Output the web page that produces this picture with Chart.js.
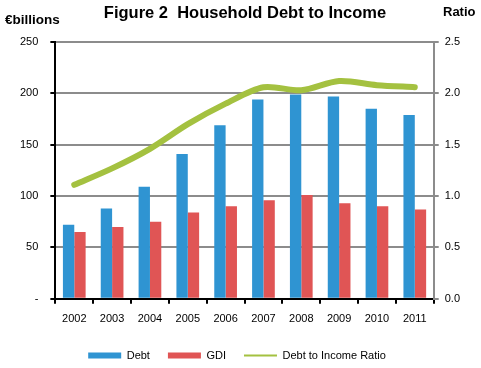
<!DOCTYPE html>
<html>
<head>
<meta charset="utf-8">
<script src="https://cdn.jsdelivr.net/npm/chart.js@4.4.1/dist/chart.umd.min.js"></script>
<style>
  body { margin: 0; background: #fff; }
  #wrap { position: relative; width: 481px; height: 368px; }
</style>
</head>
<body>
<div id="wrap"><canvas id="chart"></canvas></div>
<script>
'use strict';

// chart data
const years = ['2002', '2003', '2004', '2005', '2006', '2007', '2008', '2009', '2010', '2011'];
const debt = [72, 88, 109, 141, 169, 194, 199, 197, 185, 179];
const gdi = [65, 70, 75, 84, 90, 96, 101, 93, 90, 87];
const ratio = [1.11, 1.27, 1.46, 1.70, 1.90, 2.06, 2.03, 2.12, 2.08, 2.06];

const blue = '#2f94d2';
const red = '#e05555';
const green = '#a4c140';
const gridGrey = '#8c8c8c';
const font = '"Liberation Sans", Arial, sans-serif';

// draws title and the two unit labels above the axes
const headerText = {
    id: 'headerText',
    afterDraw(chart) {
        const ctx = chart.ctx;
        ctx.save();
        ctx.fillStyle = '#000';
        ctx.textBaseline = 'middle';
        ctx.font = 'bold 16.5px ' + font;
        ctx.textAlign = 'center';
        ctx.fillText('Figure 2  Household Debt to Income', 245, 13);
        ctx.font = 'bold 13.5px ' + font;
        ctx.textAlign = 'left';
        ctx.fillText('€billions', 5, 20);
        ctx.font = 'bold 13px ' + font;
        ctx.fillText('Ratio', 443, 12);
        ctx.restore();
    }
};

new Chart(document.getElementById('chart'), {
    type: 'bar',
    data: {
        labels: years,
        datasets: [{
            type: 'line',
            label: 'Debt to Income Ratio',
            data: ratio,
            yAxisID: 'y1',
            borderColor: green,
            backgroundColor: green,
            borderWidth: 6,
            pointRadius: 0,
            tension: 0.3,
            borderCapStyle: 'round',
            order: 0
        }, {
            label: 'Debt',
            data: debt,
            yAxisID: 'y',
            backgroundColor: blue,
            categoryPercentage: 0.6,
            barPercentage: 1.0,
            order: 1
        }, {
            label: 'GDI',
            data: gdi,
            yAxisID: 'y',
            backgroundColor: red,
            categoryPercentage: 0.6,
            barPercentage: 1.0,
            order: 1
        }]
    },
    options: {
        responsive: true,
        maintainAspectRatio: false,
        animation: false,
        layout: { padding: { top: 42, left: 8, right: 15, bottom: -3 } },
        plugins: {
            title: { display: false },
            tooltip: { enabled: false },
            legend: {
                position: 'bottom',
                labels: {
                    usePointStyle: true,
                    pointStyleWidth: 33,
                    boxHeight: 6,
                    padding: 18,
                    color: '#000',
                    font: { size: 11, family: font },
                    generateLabels(chart) {
                        const order = [1, 2, 0];
                        return order.map(i => {
                            const ds = chart.data.datasets[i];
                            const isLine = ds.type === 'line';
                            return {
                                text: ds.label,
                                fillStyle: ds.backgroundColor,
                                strokeStyle: isLine ? ds.borderColor : ds.backgroundColor,
                                lineWidth: isLine ? 2 : 0,
                                pointStyle: isLine ? 'line' : 'rect',
                                hidden: false,
                                datasetIndex: i
                            };
                        });
                    }
                }
            }
        },
        scales: {
            x: {
                offset: true,
                afterFit(scale) {
                    scale.height -= 3;
                },
                grid: {
                    offset: true,
                    drawOnChartArea: false,
                    color: '#000',
                    tickColor: '#000',
                    tickLength: 5,
                    lineWidth: 2
                },
                border: { color: '#000', width: 2 },
                ticks: {
                    color: '#000',
                    padding: 9,
                    maxRotation: 0,
                    font: { size: 11, family: font }
                }
            },
            y: {
                position: 'left',
                min: 0,
                max: 250,
                grid: {
                    color: gridGrey,
                    lineWidth: 2,
                    tickColor: '#000',
                    tickLength: 5
                },
                border: { color: '#000', width: 2 },
                ticks: {
                    stepSize: 50,
                    color: '#000',
                    padding: 12,
                    font: { size: 11, family: font },
                    callback: v => v === 0 ? '-' : v
                }
            },
            y1: {
                position: 'right',
                min: 0,
                max: 2.5,
                grid: {
                    drawOnChartArea: false,
                    color: gridGrey,
                    tickColor: gridGrey,
                    tickLength: 5,
                    lineWidth: 2
                },
                border: { color: gridGrey, width: 2 },
                ticks: {
                    stepSize: 0.5,
                    color: '#000',
                    padding: 6,
                    font: { size: 11, family: font },
                    callback: v => v.toFixed(1)
                }
            }
        }
    },
    plugins: [headerText]
});
</script>
</body>
</html>
